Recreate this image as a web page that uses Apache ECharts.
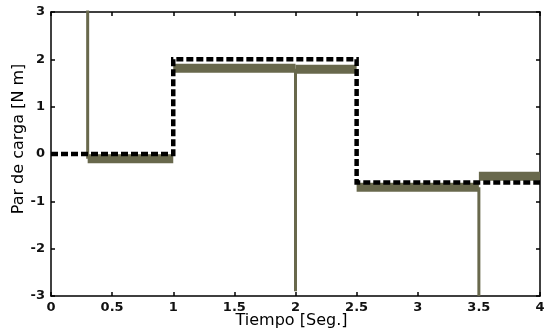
<!DOCTYPE html>
<html>
<head>
<meta charset="utf-8">
<script src="https://cdn.jsdelivr.net/npm/echarts@6/dist/echarts.min.js"></script>
<style>
  html, body { margin: 0; padding: 0; background: #fff; }
  #chart { width: 547px; height: 333px; }
</style>
</head>
<body>
<div id="chart"></div>
<script>
// Estimated load torque: constant levels between switching instants
const estStart = [0.3, 1.0, 2.0, 2.5, 3.5];
const estEnd   = [1.0, 2.0, 2.5, 3.5, 4.0];
const estLevel = [-0.1, 1.81, 1.79, -0.7, -0.47];

// Short transients in the estimate
const spikeTimes = [0.3, 2.0, 3.5];
const spikeFrom  = [-0.1, 1.8, -0.7];
const spikeTo    = [3.2, -2.9, -3.0];

// Reference load torque (dashed)
const refTimes  = [0, 1.0, 1.0, 2.5, 2.5, 4.0];
const refValues = [0, 0, 2.0, 2.0, -0.6, -0.6];

// Axis ticks
const xTicks = { min: 0, max: 4, step: 0.5 };
const yTicks = { min: -3, max: 3, step: 1 };

const estColor = '#68684c';
const font = 'DejaVu Sans, Verdana, sans-serif';

const zip = (a, b) => a.map((v, i) => [v, b[i]]);

const series = [];
estStart.forEach((t0, i) => {
  series.push({
    type: 'line', data: [[t0, estLevel[i]], [estEnd[i], estLevel[i]]], showSymbol: false, silent: true,
    lineStyle: { color: estColor, width: 9, cap: 'butt' }, z: 2
  });
});
spikeTimes.forEach((t, i) => {
  series.push({
    type: 'line', data: [[t, spikeFrom[i]], [t, spikeTo[i]]], showSymbol: false, silent: true,
    lineStyle: { color: estColor, width: 3 }, z: 2
  });
});
series.push({
  type: 'line', data: zip(refTimes, refValues), showSymbol: false, silent: true,
  lineStyle: { color: '#000', width: 4.5, type: [7, 3], join: 'miter' }, z: 3
});

const axisLine = { show: true, onZero: false, lineStyle: { color: '#000', width: 1.5 } };
const axisTick = { show: true, inside: true, length: 4, lineStyle: { color: '#000', width: 1.5 } };

const chart = echarts.init(document.getElementById('chart'), null, { renderer: 'canvas' });
chart.setOption({
  animation: false,
  backgroundColor: '#fff',
  grid: { left: 51, right: 7, top: 12, bottom: 37, containLabel: false, outerBoundsMode: 'none' },
  xAxis: [{
    type: 'value', min: xTicks.min, max: xTicks.max, interval: xTicks.step,
    name: 'Tiempo [Seg.]', nameLocation: 'middle', nameGap: 17, nameMoveOverlap: false,
    nameTextStyle: { fontFamily: font, fontSize: 16, color: '#000', padding: [0, 8, 0, 0] },
    axisLine, axisTick, splitLine: { show: false },
    axisLabel: { fontFamily: font, fontSize: 13, fontWeight: 'bold', color: '#111', margin: 5 }
  }, {
    type: 'value', position: 'top', min: xTicks.min, max: xTicks.max, interval: xTicks.step,
    axisLine, axisTick, splitLine: { show: false }, axisLabel: { show: false }
  }],
  yAxis: [{
    type: 'value', min: yTicks.min, max: yTicks.max, interval: yTicks.step,
    name: 'Par de carga [N m]', nameLocation: 'middle', nameGap: 24, nameMoveOverlap: false,
    nameTextStyle: { fontFamily: font, fontSize: 16, color: '#000', padding: [0, 0, 0, 30] },
    axisLine, axisTick, splitLine: { show: false },
    axisLabel: { fontFamily: font, fontSize: 13, fontWeight: 'bold', color: '#111', margin: 6 }
  }, {
    type: 'value', position: 'right', min: yTicks.min, max: yTicks.max, interval: yTicks.step,
    axisLine, axisTick, splitLine: { show: false }, axisLabel: { show: false }
  }],
  series
});
</script>
</body>
</html>
